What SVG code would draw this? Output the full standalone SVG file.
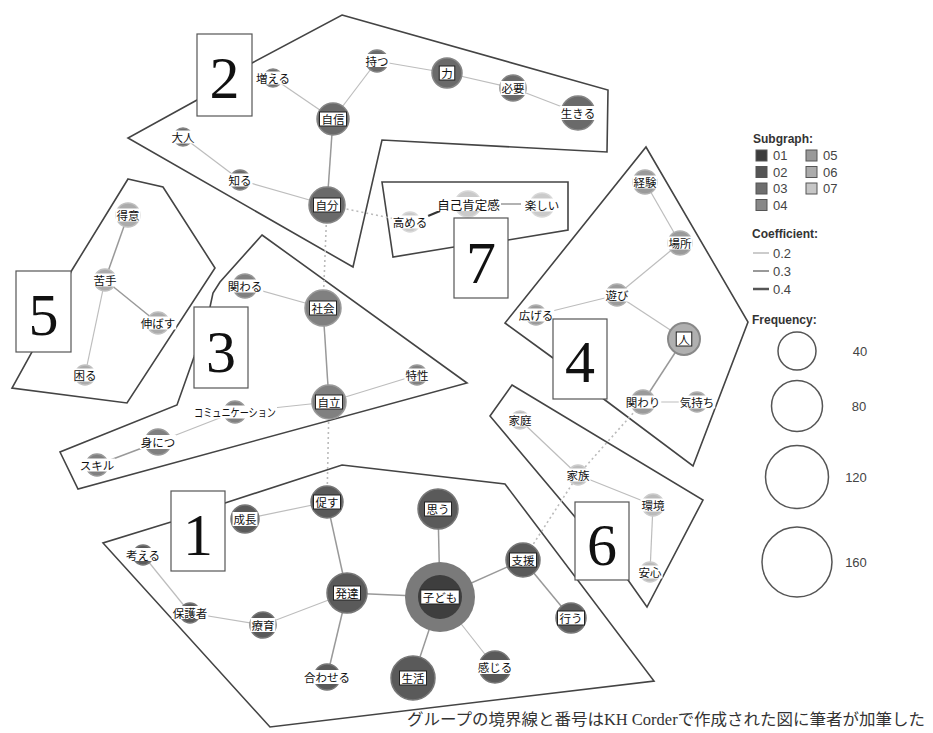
<svg xmlns="http://www.w3.org/2000/svg" width="933" height="733" viewBox="0 0 933 733">
<style>
.poly{fill:none;stroke:#444;stroke-width:1.6;stroke-linejoin:miter}
.box rect{fill:#fff;stroke:#555;stroke-width:1.2}
.box text{font-family:"Liberation Serif",serif;font-size:60px;text-anchor:middle;fill:#111}
.e2{stroke:#bdbdbd;stroke-width:1.2}
.e3{stroke:#999;stroke-width:1.5}
.e4{stroke:#333;stroke-width:2.2}
.dot{stroke:#bbb;stroke-width:1.6;stroke-dasharray:2 3;fill:none}
.nt{font-family:"Noto Sans CJK JP",sans-serif;font-size:11.5px;text-anchor:middle;fill:#111;dominant-baseline:central}
.band{fill:#fff}
.frame{fill:#fff;stroke:#222;stroke-width:1}
.g1{fill:#5a5a5a;stroke:#777;stroke-width:1.5}
.g2{fill:#6a6a6a;stroke:#858585;stroke-width:1.5}
.g3{fill:#808080;stroke:#999;stroke-width:1.5}
.g4{fill:#9a9a9a;stroke:#b0b0b0;stroke-width:1.5}
.g5{fill:#ababab;stroke:#c0c0c0;stroke-width:1.5}
.g6{fill:#bbb;stroke:#ccc;stroke-width:1.5}
.g7{fill:#cacaca;stroke:#d8d8d8;stroke-width:1.5}
.lg{font-family:"Liberation Sans",sans-serif;font-size:13px;fill:#444}
.lgh{font-family:"Liberation Sans",sans-serif;font-size:12px;font-weight:bold;fill:#333}
.sq{stroke:#555;stroke-width:1}
.fc{fill:none;stroke:#555;stroke-width:1.5}
</style>
<rect width="933" height="733" fill="#fff"/>

<g id="polygons">
<polygon class="poly" points="342,465 505,484 654,681 270,727 103,543 171,522 225,503"/>
<polygon class="poly" points="342,15 608,90 607,152 382,140 353,267 128,138 197,100 252,63"/>
<polygon class="poly" points="262,235 467,383 78,489 60,452 177,405 194,357 210,307 213,293 220,282"/>
<polygon class="poly" points="646,147 748,322 693,466 605,400 553,358 505,323"/>
<polygon class="poly" points="128,179 163,187 215,268 127,403 12,388 32,352 72,270"/>
<polygon class="poly" points="512,385 703,500 647,607 628,580 575,517 490,416"/>
<polygon class="poly" points="382,182 568,182 568,230 508,240 454,247 393,257"/>
</g>

<g id="connectors">
<line class="dot" x1="327" y1="205" x2="323" y2="308"/>
<line class="dot" x1="329" y1="402" x2="327" y2="502"/>
<line class="dot" x1="327" y1="205" x2="410" y2="222"/>
<line class="dot" x1="643" y1="402" x2="578" y2="475"/>
<line class="dot" x1="578" y1="475" x2="523" y2="560"/>
<line class="e2" x1="245" y1="519" x2="327" y2="502"/>
<line class="e3" x1="327" y1="502" x2="347" y2="593"/>
<line class="e3" x1="347" y1="593" x2="440" y2="597"/>
<line class="e2" x1="347" y1="593" x2="263" y2="625"/>
<line class="e2" x1="263" y1="625" x2="190" y2="613"/>
<line class="e2" x1="190" y1="613" x2="143" y2="555"/>
<line class="e3" x1="347" y1="593" x2="327" y2="677"/>
<line class="e3" x1="440" y1="597" x2="438" y2="509"/>
<line class="e3" x1="440" y1="597" x2="523" y2="560"/>
<line class="e3" x1="523" y1="560" x2="571" y2="618"/>
<line class="e3" x1="440" y1="597" x2="413" y2="678"/>
<line class="e2" x1="440" y1="597" x2="495" y2="667"/>
<line class="e2" x1="273" y1="78" x2="333" y2="119"/>
<line class="e2" x1="377" y1="61" x2="333" y2="119"/>
<line class="e2" x1="377" y1="61" x2="447" y2="73"/>
<line class="e2" x1="447" y1="73" x2="513" y2="88"/>
<line class="e2" x1="513" y1="88" x2="578" y2="113"/>
<line class="e3" x1="333" y1="119" x2="327" y2="205"/>
<line class="e2" x1="183" y1="137" x2="240" y2="180"/>
<line class="e2" x1="240" y1="180" x2="327" y2="205"/>
<line class="e2" x1="245" y1="286" x2="323" y2="308"/>
<line class="e3" x1="323" y1="308" x2="329" y2="402"/>
<line class="e2" x1="329" y1="402" x2="417" y2="375"/>
<line class="e2" x1="329" y1="402" x2="235" y2="412"/>
<line class="e2" x1="235" y1="412" x2="158" y2="442"/>
<line class="e3" x1="158" y1="442" x2="97" y2="465"/>
<line class="e2" x1="645" y1="182" x2="680" y2="243"/>
<line class="e2" x1="680" y1="243" x2="617" y2="295"/>
<line class="e2" x1="617" y1="295" x2="536" y2="315"/>
<line class="e2" x1="617" y1="295" x2="684" y2="339"/>
<line class="e3" x1="684" y1="339" x2="643" y2="402"/>
<line class="e2" x1="643" y1="402" x2="697" y2="402"/>
<line class="e3" x1="128" y1="215" x2="105" y2="280"/>
<line class="e3" x1="105" y1="280" x2="158" y2="323"/>
<line class="e2" x1="105" y1="280" x2="85" y2="375"/>
<line class="e2" x1="520" y1="420" x2="578" y2="475"/>
<line class="e2" x1="578" y1="475" x2="653" y2="505"/>
<line class="e2" x1="653" y1="505" x2="650" y2="572"/>
<line class="e4" x1="428" y1="216" x2="440" y2="211"/>
<line class="e3" x1="501" y1="204" x2="521" y2="204"/>
</g>

<!-- Group 1 -->
<g id="n-kodomo"><circle cx="440" cy="597" r="35" fill="#7a7a7a"/><circle cx="440" cy="597" r="22" fill="#3e3e3e"/><rect class="frame" x="420.75" y="590" width="38.5" height="14"/><text class="nt" x="440" y="597">子ども</text></g>
<g id="n-omou"><circle class="g1" cx="438" cy="509" r="20"/><rect class="frame" x="424.5" y="502" width="27" height="14"/><text class="nt" x="438" y="509">思う</text></g>
<g id="n-shien"><circle class="g1" cx="523" cy="560" r="17"/><rect class="frame" x="509.5" y="553" width="27" height="14"/><text class="nt" x="523" y="560">支援</text></g>
<g id="n-okonau"><circle class="g1" cx="571" cy="618" r="15"/><rect class="frame" x="557.5" y="611" width="27" height="14"/><text class="nt" x="571" y="618">行う</text></g>
<g id="n-kanjiru"><circle class="g1" cx="495" cy="667" r="16"/><rect class="band" x="476.75" y="660" width="36.5" height="14"/><text class="nt" x="495" y="667">感じる</text></g>
<g id="n-seikatsu"><circle class="g1" cx="413" cy="678" r="22"/><rect class="frame" x="399.5" y="671" width="27" height="14"/><text class="nt" x="413" y="678">生活</text></g>
<g id="n-hattatsu"><circle class="g1" cx="347" cy="593" r="20"/><rect class="frame" x="333.5" y="586" width="27" height="14"/><text class="nt" x="347" y="593">発達</text></g>
<g id="n-unagasu"><circle class="g1" cx="327" cy="502" r="16"/><rect class="frame" x="313.5" y="495" width="27" height="14"/><text class="nt" x="327" y="502">促す</text></g>
<g id="n-seicho"><circle class="g1" cx="245" cy="519" r="14"/><rect class="band" x="232.5" y="512" width="25" height="14"/><text class="nt" x="245" y="519">成長</text></g>
<g id="n-ryoiku"><circle class="g1" cx="263" cy="625" r="13"/><rect class="band" x="250.5" y="618" width="25" height="14"/><text class="nt" x="263" y="625">療育</text></g>
<g id="n-hogosha"><circle class="g1" cx="190" cy="613" r="10"/><rect class="band" x="171.75" y="606" width="36.5" height="13"/><text class="nt" x="190" y="613">保護者</text></g>
<g id="n-kangaeru"><circle class="g1" cx="143" cy="555" r="10"/><rect class="band" x="124.75" y="548" width="36.5" height="13"/><text class="nt" x="143" y="555">考える</text></g>
<g id="n-awaseru"><circle class="g1" cx="327" cy="677" r="13"/><rect class="band" x="303" y="670" width="48" height="14"/><text class="nt" x="327" y="677">合わせる</text></g>

<!-- Group 2 -->
<g id="n-jibun"><circle class="g2" cx="327" cy="205" r="18"/><rect class="frame" x="313.5" y="198" width="27" height="14"/><text class="nt" x="327" y="205">自分</text></g>
<g id="n-jishin"><circle class="g2" cx="333" cy="119" r="16"/><rect class="frame" x="319.5" y="112" width="27" height="14"/><text class="nt" x="333" y="119">自信</text></g>
<g id="n-chikara"><circle class="g2" cx="447" cy="73" r="15"/><rect class="frame" x="439.25" y="66" width="15.5" height="14"/><text class="nt" x="447" y="73">力</text></g>
<g id="n-hitsuyo"><circle class="g2" cx="513" cy="88" r="13"/><rect class="band" x="500.5" y="81" width="25" height="14"/><text class="nt" x="513" y="88">必要</text></g>
<g id="n-ikiru"><circle class="g2" cx="578" cy="113" r="17"/><rect class="band" x="559.75" y="106" width="36.5" height="14"/><text class="nt" x="578" y="113">生きる</text></g>
<g id="n-motsu"><circle class="g2" cx="377" cy="61" r="11"/><rect class="band" x="364.5" y="54" width="25" height="13"/><text class="nt" x="377" y="61">持つ</text></g>
<g id="n-fueru"><circle class="g2" cx="273" cy="78" r="9"/><rect class="band" x="254.75" y="71.5" width="36.5" height="13"/><text class="nt" x="273" y="78">増える</text></g>
<g id="n-otona"><circle class="g2" cx="183" cy="137" r="9"/><rect class="band" x="170.5" y="130.5" width="25" height="13"/><text class="nt" x="183" y="137">大人</text></g>
<g id="n-shiru"><circle class="g2" cx="240" cy="180" r="10"/><rect class="band" x="227.5" y="173.5" width="25" height="13"/><text class="nt" x="240" y="180">知る</text></g>

<!-- Group 3 -->
<g id="n-shakai"><circle class="g3" cx="323" cy="308" r="18"/><rect class="frame" x="309.5" y="301" width="27" height="14"/><text class="nt" x="323" y="308">社会</text></g>
<g id="n-jiritsu"><circle class="g3" cx="329" cy="402" r="17"/><rect class="frame" x="315.5" y="395" width="27" height="14"/><text class="nt" x="329" y="402">自立</text></g>
<g id="n-kakawaru"><circle class="g3" cx="245" cy="286" r="12"/><rect class="band" x="226.75" y="279.5" width="36.5" height="13"/><text class="nt" x="245" y="286">関わる</text></g>
<g id="n-tokusei"><circle class="g3" cx="417" cy="375" r="10"/><rect class="band" x="404.5" y="368.5" width="25" height="13"/><text class="nt" x="417" y="375">特性</text></g>
<g id="n-comm"><circle class="g3" cx="235" cy="412" r="11"/><rect class="band" x="193" y="405.5" width="84" height="13"/><text class="nt" x="235" y="412" textLength="82" lengthAdjust="spacingAndGlyphs">コミュニケーション</text></g>
<g id="n-minitsu"><circle class="g3" cx="158" cy="442" r="13"/><rect class="band" x="139.75" y="435" width="36.5" height="14"/><text class="nt" x="158" y="442">身につ</text></g>
<g id="n-skill"><circle class="g3" cx="97" cy="465" r="11"/><rect class="band" x="78.75" y="458.5" width="36.5" height="13"/><text class="nt" x="97" y="465">スキル</text></g>

<!-- Group 4 -->
<g id="n-keiken"><circle class="g4" cx="645" cy="182" r="12"/><rect class="band" x="632.5" y="175.5" width="25" height="13"/><text class="nt" x="645" y="182">経験</text></g>
<g id="n-basho"><circle class="g4" cx="680" cy="243" r="12"/><rect class="band" x="667.5" y="236.5" width="25" height="13"/><text class="nt" x="680" y="243">場所</text></g>
<g id="n-asobi"><circle class="g4" cx="617" cy="295" r="11"/><rect class="band" x="604.5" y="288.5" width="25" height="13"/><text class="nt" x="617" y="295">遊び</text></g>
<g id="n-hirogeru"><circle class="g4" cx="536" cy="315" r="10"/><rect class="band" x="517.75" y="308.5" width="36.5" height="13"/><text class="nt" x="536" y="315">広げる</text></g>
<g id="n-hito"><circle cx="684" cy="339" r="16" fill="#b0b0b0" stroke="#888" stroke-width="2"/><rect class="frame" x="676.25" y="332" width="15.5" height="14"/><text class="nt" x="684" y="339">人</text></g>
<g id="n-kakawari"><circle class="g4" cx="643" cy="402" r="12"/><rect class="band" x="624.75" y="395.5" width="36.5" height="13"/><text class="nt" x="643" y="402">関わり</text></g>
<g id="n-kimochi"><circle class="g4" cx="697" cy="402" r="10"/><rect class="band" x="678.75" y="395.5" width="36.5" height="13"/><text class="nt" x="697" y="402">気持ち</text></g>

<!-- Group 5 -->
<g id="n-tokui"><circle class="g5" cx="128" cy="215" r="12"/><rect class="band" x="115.5" y="208.5" width="25" height="13"/><text class="nt" x="128" y="215">得意</text></g>
<g id="n-nigate"><circle class="g5" cx="105" cy="280" r="11"/><rect class="band" x="92.5" y="273.5" width="25" height="13"/><text class="nt" x="105" y="280">苦手</text></g>
<g id="n-nobasu"><circle class="g5" cx="158" cy="323" r="11"/><rect class="band" x="139.75" y="316.5" width="36.5" height="13"/><text class="nt" x="158" y="323">伸ばす</text></g>
<g id="n-komaru"><circle class="g5" cx="85" cy="375" r="10"/><rect class="band" x="72.5" y="368.5" width="25" height="13"/><text class="nt" x="85" y="375">困る</text></g>

<!-- Group 6 -->
<g id="n-katei"><circle class="g6" cx="520" cy="420" r="9"/><rect class="band" x="507.5" y="413.5" width="25" height="13"/><text class="nt" x="520" y="420">家庭</text></g>
<g id="n-kazoku"><circle class="g6" cx="578" cy="475" r="10"/><rect class="band" x="565.5" y="468.5" width="25" height="13"/><text class="nt" x="578" y="475">家族</text></g>
<g id="n-kankyo"><circle class="g6" cx="653" cy="505" r="11"/><rect class="band" x="640.5" y="498.5" width="25" height="13"/><text class="nt" x="653" y="505">環境</text></g>
<g id="n-anshin"><circle class="g6" cx="650" cy="572" r="10"/><rect class="band" x="637.5" y="565.5" width="25" height="13"/><text class="nt" x="650" y="572">安心</text></g>

<!-- Group 7 -->
<g id="n-takameru"><circle class="g7" cx="410" cy="222" r="10"/><rect class="band" x="391.75" y="215.5" width="36.5" height="13"/><text class="nt" x="410" y="222">高める</text></g>
<g id="n-jikokoutei"><circle class="g7" cx="468" cy="204" r="13"/><rect class="band" x="437" y="197" width="63" height="14"/><text class="nt" x="468.5" y="204" style="font-size:12.5px">自己肯定感</text></g>
<g id="n-tanoshii"><circle class="g7" cx="542" cy="205" r="12"/><rect class="band" x="523.75" y="198.5" width="36.5" height="13"/><text class="nt" x="542" y="205">楽しい</text></g>

<g id="labels">
<g class="box" id="label-1"><rect x="171" y="491" width="54" height="80"/><text x="198" y="555">1</text></g>
<g class="box" id="label-2"><rect x="197" y="34" width="55" height="82"/><text x="224.5" y="98">2</text></g>
<g class="box" id="label-3"><rect x="194" y="307" width="54" height="81"/><text x="221" y="372">3</text></g>
<g class="box" id="label-4"><rect x="553" y="319" width="54" height="80"/><text x="580" y="382">4</text></g>
<g class="box" id="label-5"><rect x="16" y="271" width="55" height="81"/><text x="43.5" y="335">5</text></g>
<g class="box" id="label-6"><rect x="575" y="502" width="54" height="78"/><text x="602" y="565">6</text></g>
<g class="box" id="label-7"><rect x="454" y="218" width="54" height="80"/><text x="481" y="283">7</text></g>
</g>

<g id="legend">
<text class="lgh" x="753" y="143">Subgraph:</text>
<rect class="sq" x="756" y="150" width="11" height="11" fill="#3c3c3c"/><text class="lg" x="773" y="160">01</text>
<rect class="sq" x="756" y="166.5" width="11" height="11" fill="#555"/><text class="lg" x="773" y="177">02</text>
<rect class="sq" x="756" y="183" width="11" height="11" fill="#6e6e6e"/><text class="lg" x="773" y="193">03</text>
<rect class="sq" x="756" y="199.5" width="11" height="11" fill="#888"/><text class="lg" x="773" y="210">04</text>
<rect class="sq" x="806" y="150" width="11" height="11" fill="#999"/><text class="lg" x="823" y="160">05</text>
<rect class="sq" x="806" y="166.5" width="11" height="11" fill="#ababab"/><text class="lg" x="823" y="177">06</text>
<rect class="sq" x="806" y="183" width="11" height="11" fill="#c6c6c6"/><text class="lg" x="823" y="193">07</text>
<text class="lgh" x="752" y="238">Coefficient:</text>
<line x1="753" y1="253" x2="769" y2="253" stroke="#bbb" stroke-width="1.5"/><text class="lg" x="773" y="258">0.2</text>
<line x1="753" y1="271" x2="769" y2="271" stroke="#999" stroke-width="2"/><text class="lg" x="773" y="276">0.3</text>
<line x1="753" y1="289" x2="769" y2="289" stroke="#555" stroke-width="2.5"/><text class="lg" x="773" y="294">0.4</text>
<text class="lgh" x="752" y="324">Frequency:</text>
<circle class="fc" cx="797" cy="351" r="19"/><text class="lg" x="860" y="356" text-anchor="middle">40</text>
<circle class="fc" cx="797" cy="406" r="25.5"/><text class="lg" x="859" y="411" text-anchor="middle">80</text>
<circle class="fc" cx="797" cy="477" r="31.5"/><text class="lg" x="856" y="482" text-anchor="middle">120</text>
<circle class="fc" cx="797" cy="562" r="35"/><text class="lg" x="856" y="567" text-anchor="middle">160</text>
</g>

<text x="407" y="725" font-family="'Liberation Serif','Noto Sans CJK JP',serif" font-size="16" fill="#333" textLength="518" lengthAdjust="spacingAndGlyphs">グループの境界線と番号はKH Corderで作成された図に筆者が加筆した</text>
</svg>
